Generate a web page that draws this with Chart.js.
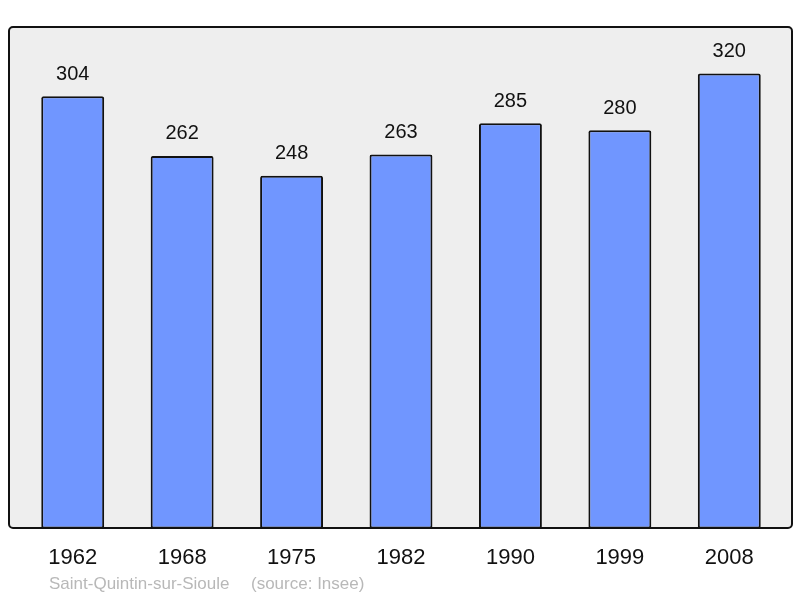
<!DOCTYPE html>
<html>
<head>
<meta charset="utf-8">
<script src="https://cdn.jsdelivr.net/npm/chart.js@4"></script>
<style>
  html, body { margin: 0; padding: 0; background: #fff; }
  #wrap { width: 800px; height: 598px; }
</style>
</head>
<body>
<div id="wrap"><canvas id="pop"></canvas></div>
<script>
    const years = ['1962', '1968', '1975', '1982', '1990', '1999', '2008'];
    const population = [304, 262, 248, 263, 285, 280, 320];
    const townName = 'Saint-Quintin-sur-Sioule';
    const sourceNote = '(source: Insee)';

    const font = '"Liberation Sans", Arial, sans-serif';

    // gray rounded frame behind the bars
    const framePlugin = {
        id: 'frame',
        beforeDatasetsDraw(chart) {
            const c = chart.ctx;
            c.save();
            c.beginPath();
            c.roundRect(9, 27, 783, 501, 4);
            c.fillStyle = '#eeeeee';
            c.fill();
            c.lineWidth = 2;
            c.strokeStyle = '#111';
            c.stroke();
            c.restore();
        },
        afterDraw(chart) {
            const c = chart.ctx;
            c.save();
            c.font = '17px ' + font;
            c.fillStyle = '#b8b8b8';
            c.textBaseline = 'middle';
            c.fillText(townName, 49, 584);
            c.fillText(sourceNote, 251, 584);
            c.restore();
        }
    };

    // value labels above each bar
    const valuePlugin = {
        id: 'values',
        afterDatasetsDraw(chart) {
            const c = chart.ctx;
            const meta = chart.getDatasetMeta(0);
            c.save();
            c.font = '20px ' + font;
            c.fillStyle = '#111';
            c.textAlign = 'center';
            c.textBaseline = 'middle';
            meta.data.forEach((bar, i) => {
                c.fillText(population[i], bar.x, bar.y - 22);
            });
            c.restore();
        }
    };

    new Chart(document.getElementById('pop'), {
        type: 'bar',
        data: {
            labels: years,
            datasets: [{
                data: population,
                backgroundColor: '#7096ff',
                borderColor: '#111',
                borderWidth: 2,
                borderRadius: 2,
                borderSkipped: false,
                categoryPercentage: 1,
                barPercentage: 0.575
            }]
        },
        options: {
            responsive: true,
            maintainAspectRatio: false,
            animation: false,
            layout: { padding: { left: 18, right: 16, top: 27, bottom: 11 } },
            plugins: {
                legend: { display: false },
                tooltip: { enabled: false }
            },
            scales: {
                y: {
                    display: false,
                    min: 0,
                    max: 352.6
                },
                x: {
                    grid: { display: false, drawTicks: false },
                    border: { display: false },
                    ticks: {
                        padding: 16,
                        color: '#111',
                        font: { family: font, size: 22 }
                    }
                }
            }
        },
        plugins: [framePlugin, valuePlugin]
    });
</script>
</body>
</html>
